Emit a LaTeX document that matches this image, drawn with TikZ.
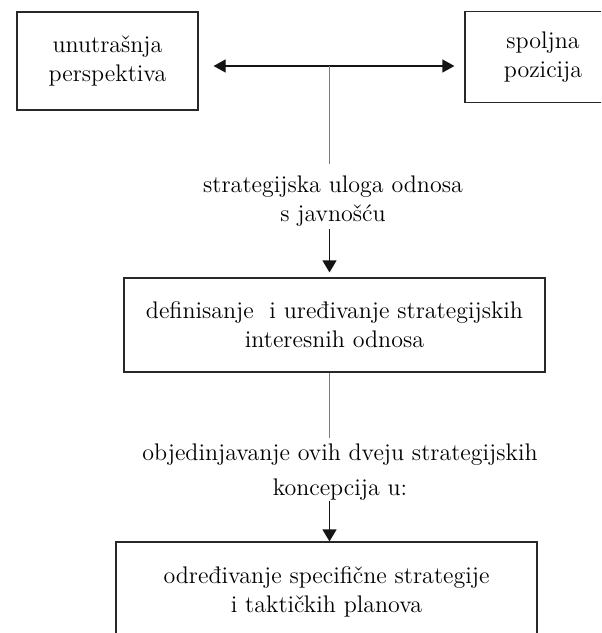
\documentclass[tikz,border=0pt]{standalone}
\usepackage{tikz}
\usetikzlibrary{arrows.meta, positioning, calc}
\definecolor{boxgray}{RGB}{40,40,40}
\definecolor{linegray}{RGB}{125,125,125}
\definecolor{arrowblack}{RGB}{20,20,20}
\tikzset{
  planbox/.style={rectangle, draw=boxgray, line width=0.6pt, align=center,
    font=\fontsize{12}{14.5}\selectfont, inner sep=0pt},
  rolelabel/.style={align=center, font=\fontsize{12}{14.5}\selectfont,
    inner sep=6pt},
  arrow/.style={-{Triangle[length=6pt, width=7pt]}, line width=0.6pt,
    color=arrowblack},
  twoarrow/.style={{Triangle[length=6pt, width=6.5pt]}-{Triangle[length=6pt, width=6.5pt]},
    line width=0.6pt, color=arrowblack},
  plainline/.style={line width=0.6pt, color=linegray},
}
\begin{document}
\begin{tikzpicture}[x=0.5pt, y=-0.5pt]
  \useasboundingbox (0,0) rectangle (601,633);
  \clip (0,0) rectangle (601,633);

  % the two viewpoints
  \node[planbox, minimum width=90.5pt, minimum height=49pt]
    (inner) at (107.5,61) {unutrašnja\\perspektiva};
  \node[planbox, minimum width=78pt, minimum height=45.5pt]
    (outer) at (543,57) {spoljna\\pozicija};
  \coordinate (hub) at (329.5,66);

  \node[rolelabel] (role) at (333,201.5)
    {strategijska uloga odnosa\\s javnošću};
  \node[planbox, minimum width=210.5pt, minimum height=47pt]
    (interest) at (334.5,325) {definisanje~ i uređivanje strategijskih\\interesnih odnosa};
  \node[rolelabel] (merge) at (340,472)
    {objedinjavanje ovih dveju strategijskih\\[3pt]koncepcija u:};
  \node[planbox, minimum width=210.5pt, minimum height=50pt]
    (tactics) at (326.5,592) {određivanje specifične strategije\\i taktičkih planova};

  \draw[twoarrow] ($(inner.east |- hub)+(15,0)$) -- ($(outer.west |- hub)+(-10,0)$);
  \draw[plainline] (hub) -- (hub |- role.north);
  \draw[arrow] ($(role.south -| hub)+(0,-10)$) -- ($(interest.north -| hub)+(0,-5)$);
  \draw[plainline] (interest.south -| hub) -- ($(merge.north -| hub)+(0,7)$);
  \draw[arrow] ($(merge.south -| hub)+(0,-12)$) -- (tactics.north -| hub);
\end{tikzpicture}
\end{document}
